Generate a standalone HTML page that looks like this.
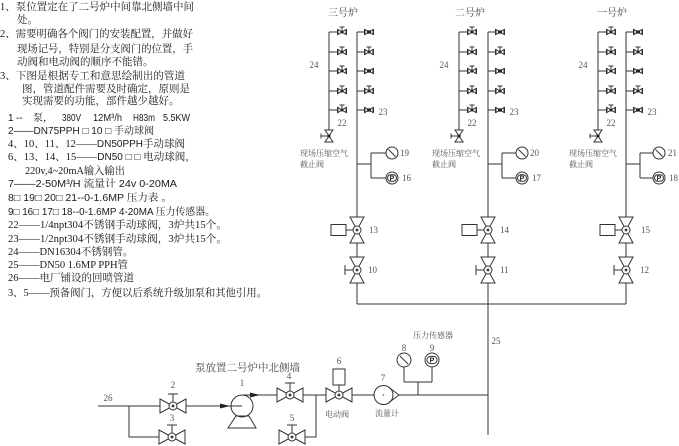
<!DOCTYPE html>
<html><head><meta charset="utf-8"><style>
html,body{margin:0;padding:0;background:#fff;}
svg{display:block;}
.t{font-family:"Liberation Serif","Noto Serif CJK SC",serif;font-size:10.5px;fill:#1a1a1a;}
.s{font-family:"Liberation Sans","Noto Serif CJK SC",sans-serif;font-size:10px;fill:#1a1a1a;}
.l{font-family:"Liberation Serif","Noto Serif CJK SC",serif;font-size:9px;fill:#555;}
.c{font-family:"Liberation Serif","Noto Serif CJK SC",serif;font-size:8px;fill:#555;}
.h{font-family:"Liberation Serif","Noto Serif CJK SC",serif;font-size:10px;fill:#444;}
.p{font-family:"Liberation Sans",sans-serif;font-size:7px;font-weight:bold;fill:#222;}
</style></head><body>
<svg width="679" height="446" viewBox="0 0 679 446" xmlns="http://www.w3.org/2000/svg">
<defs>
 <g id="sv" stroke="#333" stroke-width="1" fill="none">
  <path d="M-4.5,-3V3M4.5,-3V3"/>
  <path d="M-4,-2.5L0,0L-4,2.5ZM4,-2.5L0,0L4,2.5Z" fill="#fff"/>
  <circle r="1.5" fill="#222" stroke="none"/>
  <path d="M0,0V-5M-2.5,-5H2.5"/>
 </g>
 <g id="sn" stroke="#333" stroke-width="1" fill="none">
  <path d="M-4.5,-3V3M4.5,-3V3"/>
  <path d="M-4,-2.5L0,0L-4,2.5ZM4,-2.5L0,0L4,2.5Z" fill="#fff"/>
  <rect x="-2" y="-1.6" width="4" height="3.2" fill="#222" stroke="none"/>
 </g>
 <g id="vv" stroke="#333" stroke-width="1" fill="none">
  <path d="M-4,-6H4L0,0ZM-4,6H4L0,0Z" fill="#fff"/>
  <circle r="1.6" fill="#222" stroke="none"/>
  <path d="M0,0H-8M-8,-2.5V2.5"/>
 </g>
 <g id="bv" stroke="#333" stroke-width="1" fill="none">
  <path d="M-7,-13H7L0,0ZM-7,13H7L0,0Z" fill="#fff"/>
  <circle r="4" fill="#fff"/>
  <circle r="1.4" fill="#333" stroke="none"/>
  <path d="M-4,0H-12M-12,-5V5"/>
 </g>
 <g id="be" stroke="#333" stroke-width="1" fill="none">
  <path d="M-7,-13H7L0,0ZM-7,13H7L0,0Z" fill="#fff"/>
  <circle r="4" fill="#fff"/>
  <circle r="1.4" fill="#333" stroke="none"/>
  <path d="M-4,0H-11"/>
  <rect x="-26" y="-5.5" width="15" height="11" fill="#fff"/>
 </g>
 <g id="bh" stroke="#333" stroke-width="1" fill="none">
  <path d="M-13,-7V7L0,0ZM13,-7V7L0,0Z" fill="#fff"/>
  <circle r="4" fill="#fff"/>
  <circle r="1.4" fill="#333" stroke="none"/>
  <path d="M0,-4V-12M-5,-12H5"/>
 </g>
 <g id="bhe" stroke="#333" stroke-width="1" fill="none">
  <path d="M-13,-7V7L0,0ZM13,-7V7L0,0Z" fill="#fff"/>
  <circle r="4" fill="#fff"/>
  <circle r="1.4" fill="#333" stroke="none"/>
  <path d="M0,-4V-10"/>
  <rect x="-6" y="-26" width="12" height="16" fill="#fff"/>
 </g>
 <g id="g6" stroke="#333" stroke-width="1" fill="none">
  <circle r="6" fill="#fff"/>
  <path d="M-3.5,-3.5L3.5,3.5"/>
 </g>
 <g id="p6" stroke="#333" stroke-width="1" fill="none">
  <circle r="6" fill="#fff"/>
  <rect x="-4.5" y="-3.2" width="9" height="6.4" rx="3.2"/>
 </g>
 <g id="g7" stroke="#333" stroke-width="1" fill="none">
  <circle r="7" fill="#fff"/>
  <path d="M-4,-4L4,4"/>
 </g>
 <g id="p7" stroke="#333" stroke-width="1" fill="none">
  <circle r="7" fill="#fff"/>
  <rect x="-5" y="-3.6" width="10" height="7.2" rx="3.6"/>
 </g>
</defs>

<!-- Left text block -->
<text class="t" x="0" y="10" textLength="194" lengthAdjust="spacingAndGlyphs">1、泵位置定在了二号炉中间靠北侧墙中间</text>
<text class="t" x="17" y="23">处。</text>
<text class="t" x="0" y="37" textLength="193" lengthAdjust="spacingAndGlyphs">2、需要明确各个阀门的安装配置，并做好</text>
<text class="t" x="17" y="52" textLength="176" lengthAdjust="spacingAndGlyphs">现场记号，特别是分支阀门的位置，手</text>
<text class="t" x="17" y="65">动阀和电动阀的顺序不能错。</text>
<text class="t" x="0" y="79" textLength="185" lengthAdjust="spacingAndGlyphs">3、下图是根据专工和意思绘制出的管道</text>
<text class="t" x="22" y="92" textLength="168" lengthAdjust="spacingAndGlyphs">图，管道配件需要及时确定，原则是</text>
<text class="t" x="22" y="104">实现需要的功能，部件越少越好。</text>

<text class="s" x="8" y="121">1</text>
<text class="s" x="16" y="121">--</text>
<text class="s" x="33" y="121">泵，</text>
<text class="s" x="62" y="121" textLength="19" lengthAdjust="spacingAndGlyphs">380V</text>
<text class="s" x="93" y="121" textLength="29" lengthAdjust="spacingAndGlyphs">12M³/h</text>
<text class="s" x="133" y="121" textLength="22" lengthAdjust="spacingAndGlyphs">H83m</text>
<text class="s" x="163" y="121" textLength="27" lengthAdjust="spacingAndGlyphs">5.5KW</text>

<text class="s" x="8" y="134">2——DN75PPH □ 10 □ 手动球阀</text>
<text class="t" x="8" y="147">4、10、11、12——<tspan class="s">DN50PPH</tspan>手动球阀</text>
<text class="t" x="8" y="160">6、13、14、15——<tspan class="s">DN50 □ □ </tspan>电动球阀，</text>
<text class="t" x="25" y="174" textLength="100" lengthAdjust="spacingAndGlyphs">220v,4~20mA输入输出</text>
<text class="s" x="8" y="187" textLength="169" lengthAdjust="spacingAndGlyphs">7——2-50M³/H 流量计 24v  0-20MA</text>
<text class="s" x="8" y="201" textLength="164" lengthAdjust="spacingAndGlyphs">8□ 19□ 20□ 21--0-1.6MP 压力表 。</text>
<text class="s" x="8" y="215" textLength="207" lengthAdjust="spacingAndGlyphs">9□ 16□ 17□ 18--0-1.6MP  4-20MA 压力传感器。</text>
<text class="t" x="8" y="228" textLength="219" lengthAdjust="spacingAndGlyphs">22——1/4npt304不锈钢手动球阀，3炉共15个。</text>
<text class="t" x="8" y="242" textLength="219" lengthAdjust="spacingAndGlyphs">23——1/2npt304不锈钢手动球阀，3炉共15个。</text>
<text class="t" x="8" y="255">24——DN16304不锈钢管。</text>
<text class="t" x="8" y="268">25——DN50 1.6MP  PPH管</text>
<text class="t" x="8" y="281">26——电厂铺设的回喷管道</text>
<text class="t" x="8" y="296" textLength="259" lengthAdjust="spacingAndGlyphs">3、5——预备阀门，方便以后系统升级加泵和其他引用。</text>

<!-- Pipes -->
<g stroke="#333" stroke-width="1" fill="none">
 <path d="M329,130V32"/>
 <path d="M329,32H337.5M329,52H337.5M329,71H337.5M329,91H337.5M329,110H337.5"/>
 <path d="M357,32V304"/>
 <path d="M357,32H364.5M357,52H364.5M357,71H364.5M357,91H364.5M357,110H364.5"/>
 <path d="M357,164H371M371,153V178M371,153H386M371,178H386"/>
 <path d="M459,130V32"/>
 <path d="M459,32H467.5M459,52H467.5M459,71H467.5M459,91H467.5M459,110H467.5"/>
 <path d="M488,32V435"/>
 <path d="M488,32H495.5M488,52H495.5M488,71H495.5M488,91H495.5M488,110H495.5"/>
 <path d="M488,164H502M502,153V178M502,153H516M502,178H516"/>
 <path d="M598,130V32"/>
 <path d="M598,32H606.5M598,52H606.5M598,71H606.5M598,91H606.5M598,110H606.5"/>
 <path d="M626,32V304"/>
 <path d="M626,32H633.5M626,52H633.5M626,71H633.5M626,91H633.5M626,110H633.5"/>
 <path d="M626,164H640M640,153V178M640,153H653M640,178H653"/>
 <path d="M357,304H626"/>
 <path d="M98,406H160M186,406H242"/>
 <path d="M129,406V437H159"/>
 <path d="M242,395H277M303,395H326M352,395H374M399,395H488"/>
 <path d="M305,437H316V395"/>
 <path d="M418,395V382M404,382H432M404,367V382M432,367V382"/>
</g>

<!-- small valves -->
<use href="#sv" x="342" y="32"/><use href="#sv" x="342" y="52"/><use href="#sv" x="342" y="71"/><use href="#sv" x="342" y="91"/><use href="#sv" x="342" y="110"/>
<use href="#sn" x="369" y="32"/><use href="#sv" x="369" y="52"/><use href="#sn" x="369" y="71"/><use href="#sv" x="369" y="91"/><use href="#sn" x="369" y="110"/>
<use href="#sv" x="472" y="32"/><use href="#sv" x="472" y="52"/><use href="#sv" x="472" y="71"/><use href="#sv" x="472" y="91"/><use href="#sv" x="472" y="110"/>
<use href="#sn" x="500" y="32"/><use href="#sv" x="500" y="52"/><use href="#sn" x="500" y="71"/><use href="#sv" x="500" y="91"/><use href="#sn" x="500" y="110"/>
<use href="#sv" x="611" y="32"/><use href="#sv" x="611" y="52"/><use href="#sv" x="611" y="71"/><use href="#sv" x="611" y="91"/><use href="#sv" x="611" y="110"/>
<use href="#sn" x="638" y="32"/><use href="#sv" x="638" y="52"/><use href="#sn" x="638" y="71"/><use href="#sv" x="638" y="91"/><use href="#sn" x="638" y="110"/>

<use href="#vv" x="329" y="136"/><use href="#vv" x="459" y="136"/><use href="#vv" x="598" y="136"/>

<!-- gauges upper -->
<use href="#g6" x="392" y="153"/><use href="#p6" x="392" y="178"/>
<use href="#g6" x="522" y="153"/><use href="#p6" x="522" y="178"/>
<use href="#g6" x="659" y="153"/><use href="#p6" x="659" y="178"/>
<text class="p" x="392" y="180.5" text-anchor="middle">P</text>
<text class="p" x="522" y="180.5" text-anchor="middle">P</text>
<text class="p" x="659" y="180.5" text-anchor="middle">P</text>

<!-- big valves upper -->
<use href="#be" x="357" y="230"/><use href="#bv" x="357" y="270"/>
<use href="#be" x="488" y="230"/><use href="#bv" x="488" y="270"/>
<use href="#be" x="626" y="230"/><use href="#bv" x="626" y="270"/>

<!-- bottom equipment -->
<use href="#bh" x="173" y="406"/>
<use href="#bh" x="172" y="437"/>
<g stroke="#333" stroke-width="1" fill="none">
 <circle cx="242" cy="406" r="11"/>
 <path d="M236,416L249,416L256,428L228,428Z"/>
 <circle cx="383.5" cy="395" r="9.5" fill="#fff"/>
 <path d="M389,387.5L399,395L389,402.5"/>
</g>
<path d="M220,403.5L230,406L220,408.5Z" fill="#222"/>
<path d="M250,392.5L260,395L250,397.5Z" fill="#222"/>
<circle cx="383.5" cy="395" r="0.8" fill="#555"/>
<use href="#bh" x="290" y="395"/>
<use href="#bh" x="292" y="437"/>
<use href="#bhe" x="339" y="395"/>
<use href="#g7" x="404" y="360"/><use href="#p7" x="432" y="360"/>
<text class="p" x="432" y="362.5" text-anchor="middle">P</text>

<!-- diagram labels -->
<text class="h" x="343" y="16" text-anchor="middle">三号炉</text>
<text class="h" x="470" y="16" text-anchor="middle">二号炉</text>
<text class="h" x="612" y="16" text-anchor="middle">一号炉</text>

<text class="l" x="314" y="68" text-anchor="middle">24</text>
<text class="l" x="444" y="68" text-anchor="middle">24</text>
<text class="l" x="583" y="68" text-anchor="middle">24</text>
<text class="l" x="342" y="126" text-anchor="middle">22</text>
<text class="l" x="472" y="126" text-anchor="middle">22</text>
<text class="l" x="611" y="126" text-anchor="middle">22</text>
<text class="l" x="383" y="115" text-anchor="middle">23</text>
<text class="l" x="514" y="115" text-anchor="middle">23</text>
<text class="l" x="652" y="115" text-anchor="middle">23</text>

<text class="c" x="300" y="156">现场压缩空气</text>
<text class="c" x="300" y="167">截止阀</text>
<text class="c" x="432" y="156">现场压缩空气</text>
<text class="c" x="432" y="167">截止阀</text>
<text class="c" x="569" y="156">现场压缩空气</text>
<text class="c" x="569" y="167">截止阀</text>

<text class="l" x="400" y="156">19</text>
<text class="l" x="402" y="181">16</text>
<text class="l" x="530" y="156">20</text>
<text class="l" x="532" y="181">17</text>
<text class="l" x="668" y="156">21</text>
<text class="l" x="669" y="181">18</text>

<text class="l" x="369" y="233">13</text>
<text class="l" x="368" y="273">10</text>
<text class="l" x="500" y="233">14</text>
<text class="l" x="500" y="273">11</text>
<text class="l" x="641" y="233">15</text>
<text class="l" x="640" y="273">12</text>

<text class="l" x="496" y="344" text-anchor="middle">25</text>
<text class="c" x="433" y="338" text-anchor="middle">压力传感器</text>
<text class="l" x="404" y="351" text-anchor="middle">8</text>
<text class="l" x="432" y="351" text-anchor="middle">9</text>

<text class="t" x="195" y="371" textLength="105" lengthAdjust="spacingAndGlyphs" style="fill:#444">泵放置二号炉中北侧墙</text>
<text class="l" x="108" y="401" text-anchor="middle">26</text>
<text class="l" x="173" y="388" text-anchor="middle">2</text>
<text class="l" x="172" y="421" text-anchor="middle">3</text>
<text class="l" x="242" y="386" text-anchor="middle">1</text>
<text class="l" x="289" y="379" text-anchor="middle">4</text>
<text class="l" x="292" y="421" text-anchor="middle">5</text>
<text class="l" x="339" y="364" text-anchor="middle">6</text>
<text class="c" x="337" y="417" text-anchor="middle">电动阀</text>
<text class="l" x="383" y="381" text-anchor="middle">7</text>
<text class="c" x="387" y="416" text-anchor="middle">流量计</text>
</svg>
</body></html>
